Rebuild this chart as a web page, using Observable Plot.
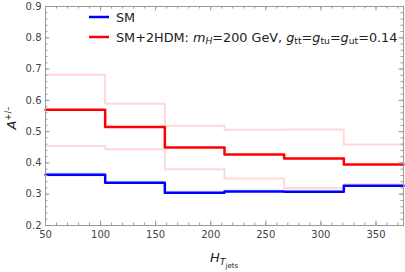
<!DOCTYPE html>
<html>
<head>
<meta charset="utf-8">
<script src="https://cdn.jsdelivr.net/npm/d3@7"></script>
<script src="https://cdn.jsdelivr.net/npm/@observablehq/plot@0.6"></script>
<style>
  html, body { margin: 0; padding: 0; background: #fff; }
  #chart { width: 405px; height: 272px; }
  svg { font-family: "DejaVu Sans", sans-serif; }
</style>
</head>
<body>
<div id="chart"></div>
<script>
// Bin edges of H_T(jets)
const binEdges = [50, 104.17, 158.33, 212.5, 266.67, 320.83, 375];
// SM central values
const smValues = [0.362, 0.337, 0.305, 0.309, 0.308, 0.327];
const smErr = [0.007, 0.005, 0.005, 0.005, 0.005, 0.005];
// SM+2HDM central, upper and lower
const bsmValues = [0.570, 0.515, 0.449, 0.427, 0.414, 0.395];
const bsmUpper = [0.682, 0.589, 0.519, 0.506, 0.507, 0.459];
const bsmLower = [0.454, 0.444, 0.380, 0.350, 0.320, 0.332];
// ticks
const xTicks = [50, 100, 150, 200, 250, 300, 350];
const xMinor = d3.range(50, 376, 10);
const yTicks = [0.2, 0.3, 0.4, 0.5, 0.6, 0.7, 0.8, 0.9];
const yMinor = d3.range(0.2, 0.901, 0.02);

function steps(vals) {
  const pts = vals.map((v, i) => ({x: binEdges[i], y: v}));
  pts.push({x: binEdges[binEdges.length - 1], y: vals[vals.length - 1]});
  return pts;
}
function bandSteps(vals, err) {
  const pts = vals.map((v, i) => ({x: binEdges[i], y1: v - err[i], y2: v + err[i]}));
  const n = vals.length - 1;
  pts.push({x: binEdges[n + 1], y1: vals[n] - err[n], y2: vals[n] + err[n]});
  return pts;
}

const W = 405, H = 272, mL = 45, mR = 2, mT = 6, mB = 47;
const innerW = W - mL - mR, innerH = H - mT - mB;
const frameColor = "#9a9a9a";
const labelColor = "#444";
const majorLen = 4.5, minorLen = 2.5;

const plot = Plot.plot({
  width: W,
  height: H,
  marginLeft: mL,
  marginRight: mR,
  marginTop: mT,
  marginBottom: mB,
  style: {fontFamily: "DejaVu Sans, sans-serif", fontSize: "10px", color: labelColor, background: "#fff"},
  x: {domain: [50, 375]},
  y: {domain: [0.2, 0.9]},
  marks: [
    Plot.areaY(bandSteps(smValues, smErr), {x: "x", y1: "y1", y2: "y2", curve: "step-after", fill: "#dfeaff"}),
    Plot.line(steps(bsmUpper), {x: "x", y: "y", curve: "step-after", stroke: "#ffd8d8", strokeWidth: 2}),
    Plot.line(steps(bsmLower), {x: "x", y: "y", curve: "step-after", stroke: "#ffd8d8", strokeWidth: 2}),
    Plot.line(steps(smValues), {x: "x", y: "y", curve: "step-after", stroke: "#0000ff", strokeWidth: 2.5}),
    Plot.line(steps(bsmValues), {x: "x", y: "y", curve: "step-after", stroke: "#ff0000", strokeWidth: 2.5}),
    // inward ticks, all four sides
    Plot.ruleX(xTicks, {x: d => d, insetTop: innerH - majorLen, stroke: frameColor}),
    Plot.ruleX(xMinor, {x: d => d, insetTop: innerH - minorLen, stroke: frameColor}),
    Plot.ruleX(xTicks, {x: d => d, insetBottom: innerH - majorLen, stroke: frameColor}),
    Plot.ruleX(xMinor, {x: d => d, insetBottom: innerH - minorLen, stroke: frameColor}),
    Plot.ruleY(yTicks, {y: d => d, insetRight: innerW - majorLen, stroke: frameColor}),
    Plot.ruleY(yMinor, {y: d => d, insetRight: innerW - minorLen, stroke: frameColor}),
    Plot.ruleY(yTicks, {y: d => d, insetLeft: innerW - majorLen, stroke: frameColor}),
    Plot.ruleY(yMinor, {y: d => d, insetLeft: innerW - minorLen, stroke: frameColor}),
    Plot.frame({stroke: frameColor}),
    // tick labels
    Plot.axisX({anchor: "bottom", ticks: xTicks, tickSize: 0, tickPadding: 5, label: null, fill: labelColor}),
    Plot.axisY({anchor: "left", ticks: yTicks, tickSize: 0, tickPadding: 4, tickFormat: d3.format(".1f"), label: null, fill: labelColor})
  ]
});

document.getElementById("chart").appendChild(plot);

const svg = d3.select(plot);

// Legend
const legend = svg.append("g").attr("font-family", "DejaVu Sans, sans-serif").attr("font-size", 12.8)
  .attr("fill", "#222").attr("text-anchor", "start");
const legendItems = [
  {color: "#0000ff", y: 17},
  {color: "#ff0000", y: 37}
];
legendItems.forEach(it => {
  legend.append("line").attr("x1", 89).attr("x2", 109).attr("y1", it.y).attr("y2", it.y)
    .attr("stroke", it.color).attr("stroke-width", 2.5);
});
legend.append("text").attr("x", 116).attr("y", 21.5).text("SM");
const t2 = legend.append("text").attr("x", 116).attr("y", 41.5);
t2.append("tspan").text("SM+2HDM: ");
t2.append("tspan").attr("font-style", "italic").text("m");
t2.append("tspan").attr("font-style", "italic").attr("font-size", 9.2).attr("dy", 2.5).text("H");
t2.append("tspan").attr("dy", -2.5).text("=200 GeV, ");
t2.append("tspan").attr("font-style", "italic").text("g");
t2.append("tspan").attr("font-size", 9.2).attr("dy", 2.5).text("tt");
t2.append("tspan").attr("dy", -2.5).text("=");
t2.append("tspan").attr("font-style", "italic").text("g");
t2.append("tspan").attr("font-size", 9.2).attr("dy", 2.5).text("tu");
t2.append("tspan").attr("dy", -2.5).text("=");
t2.append("tspan").attr("font-style", "italic").text("g");
t2.append("tspan").attr("font-size", 9.2).attr("dy", 2.5).text("ut");
t2.append("tspan").attr("dy", -2.5).text("=0.14");

// X axis label H_{T_jets}
const xl = svg.append("text").attr("x", 210).attr("y", 261.5).attr("text-anchor", "start")
  .attr("font-family", "DejaVu Sans, sans-serif").attr("font-size", 13).attr("fill", "#222");
xl.append("tspan").attr("font-style", "italic").text("H");
xl.append("tspan").attr("font-style", "italic").attr("font-size", 9.5).attr("dy", 3.5).text("T");
xl.append("tspan").attr("font-size", 7).attr("dy", 2.5).text("jets");

// Y axis label A^{+/-}
const yl = svg.append("text").attr("transform", "translate(16,118) rotate(-90)").attr("text-anchor", "middle")
  .attr("font-family", "DejaVu Sans, sans-serif").attr("font-size", 13).attr("fill", "#222");
yl.append("tspan").attr("font-style", "italic").text("A");
yl.append("tspan").attr("font-size", 8.5).attr("dy", -5).text("+/\u2013");
</script>
</body>
</html>
